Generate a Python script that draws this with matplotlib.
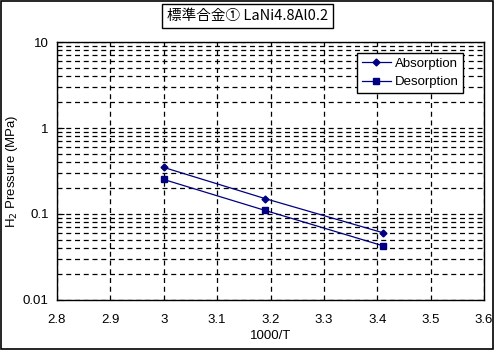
import matplotlib
matplotlib.use("Agg")
import matplotlib.pyplot as plt
from matplotlib.patches import Rectangle
from matplotlib.ticker import LogLocator, FixedLocator, NullFormatter, FixedFormatter

plt.rcParams['font.family'] = ['Liberation Sans', 'Noto Sans CJK JP', 'DejaVu Sans']

x_inv_T = [3.00, 3.19, 3.41]
absorption = [0.348, 0.151, 0.0607]
desorption = [0.252, 0.110, 0.0428]
title = "標準合金① LaNi4.8Al0.2"
x_ticks = [2.8, 2.9, 3.0, 3.1, 3.2, 3.3, 3.4, 3.5, 3.6]
x_tick_labels = ["2.8", "2.9", "3", "3.1", "3.2", "3.3", "3.4", "3.5", "3.6"]
y_ticks = [0.01, 0.1, 1, 10]
y_tick_labels = ["0.01", "0.1", "1", "10"]

navy = "#000080"

fig = plt.figure(figsize=(5, 3.6), dpi=100)
fig.patch.set_facecolor("white")
fig.patches.append(Rectangle((0.002, 0.03), 0.984, 0.966, transform=fig.transFigure,
                             fill=False, edgecolor="black", linewidth=1.2))

ax = fig.add_axes([0.114, 0.1667, 0.854, 0.7166])
ax.set_yscale("log")
ax.set_xlim(2.8, 3.6)
ax.set_ylim(0.01, 10)

ax.plot(x_inv_T, absorption, color=navy, marker="D", markersize=3.5, linewidth=0.9, label="Absorption")
ax.plot(x_inv_T, desorption, color=navy, marker="s", markersize=4.5, linewidth=0.9, label="Desorption")

ax.xaxis.set_major_locator(FixedLocator(x_ticks))
ax.xaxis.set_major_formatter(FixedFormatter(x_tick_labels))
ax.yaxis.set_major_locator(FixedLocator(y_ticks))
ax.yaxis.set_major_formatter(FixedFormatter(y_tick_labels))
ax.yaxis.set_minor_locator(LogLocator(base=10, subs=range(2, 10)))
ax.yaxis.set_minor_formatter(NullFormatter())

ax.grid(True, which="major", axis="both", color="black", linestyle=(0, (4, 3)), linewidth=0.9)
ax.grid(True, which="minor", axis="y", color="black", linestyle=(0, (4, 3)), linewidth=0.9)

ax.tick_params(axis="y", which="major", direction="in", length=5, labelsize=9.5, pad=6)
ax.tick_params(axis="y", which="minor", direction="in", length=3)
ax.tick_params(axis="x", which="major", direction="in", length=0, labelsize=9.5, pad=10)
for s in ax.spines.values():
    s.set_linewidth(1.0)
    s.set_color("black")

ax.set_xlabel("1000/T", fontsize=9.5, labelpad=3)
ax.set_ylabel("H$_2$ Pressure (MPa)", fontsize=9.5, labelpad=2)

leg = ax.legend(loc="upper right", bbox_to_anchor=(0.951, 0.957), fontsize=9.5, frameon=True,
                fancybox=False, edgecolor="black", framealpha=1, borderpad=0.35,
                handlelength=2.2, handletextpad=0.3, labelspacing=0.45, borderaxespad=0.0)
leg.get_frame().set_linewidth(1.0)

fig.text(0.495, 0.955, title, ha="center", va="center", fontsize=10.5,
         family=['Noto Sans CJK JP', 'DejaVu Sans'],
         bbox=dict(boxstyle="square,pad=0.35", facecolor="white", edgecolor="black", linewidth=1.0))

fig.savefig("out.png", dpi=100)
